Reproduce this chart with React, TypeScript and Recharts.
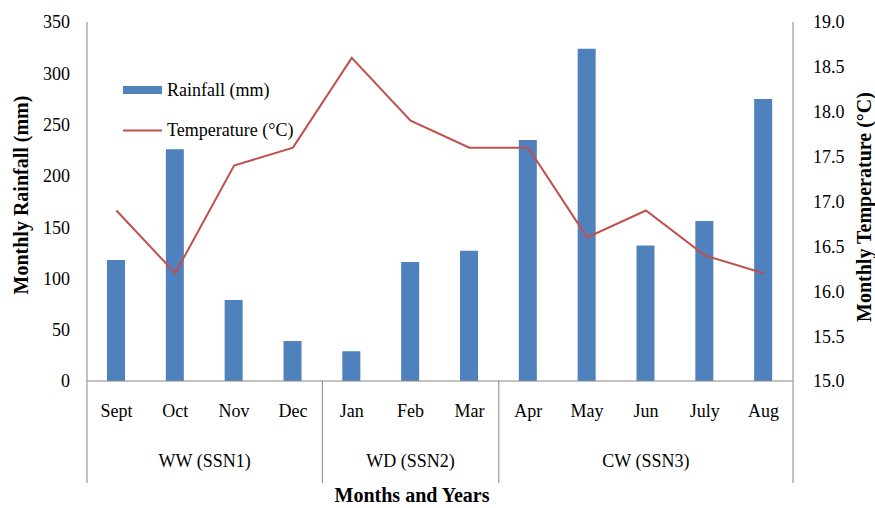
import React from 'react';
import { ComposedChart, Bar, Line, XAxis, YAxis, Legend, Label } from 'recharts';

const months = ['Sept', 'Oct', 'Nov', 'Dec', 'Jan', 'Feb', 'Mar', 'Apr', 'May', 'Jun', 'July', 'Aug'];
const rainfall = [118, 226, 79, 39, 29, 116, 127, 235, 324, 132, 156, 275];
const temperature = [16.9, 16.2, 17.4, 17.6, 18.6, 17.9, 17.6, 17.6, 16.6, 16.9, 16.4, 16.2];
const seasonLabels = ['WW (SSN1)', 'WD (SSN2)', 'CW (SSN3)'];
const seasonSizes = [4, 3, 5];
const rainTicks = [0, 50, 100, 150, 200, 250, 300, 350];
const tempTicks = [15, 15.5, 16, 16.5, 17, 17.5, 18, 18.5, 19];

const data = months.map((m, i) => ({ month: m, rainfall: rainfall[i], temperature: temperature[i] }));

const W = 875;
const H = 508;
const LEFT_W = 87;
const RIGHT_W = 82;
const TOP = 22;
const XAXIS_H = 127;
const PLOT_W = W - LEFT_W - RIGHT_W;
const PLOT_BOTTOM = H - XAXIS_H;
const STEP = PLOT_W / months.length;
const FRAME = '#868686';
const FONT = 'Liberation Serif';

const seasonStarts = seasonSizes.map((_, k) => seasonSizes.slice(0, k).reduce((a, b) => a + b, 0));

const MonthTick = (props: any) => {
  const { x, payload, index } = props;
  const i = typeof index === 'number' ? index : payload.index;
  const els: any[] = [];
  els.push(
    <text key="m" x={x} y={PLOT_BOTTOM + 36} textAnchor="middle" style={{ fontFamily: FONT }} fontSize={18} fill="#000">
      {payload.value}
    </text>
  );
  const k = seasonStarts.indexOf(i);
  if (k >= 0) {
    const left = x - STEP / 2;
    els.push(<line key="s" x1={left} x2={left} y1={PLOT_BOTTOM} y2={PLOT_BOTTOM + 102} stroke={FRAME} strokeWidth={1} />);
    els.push(
      <text key="g" x={left + (seasonSizes[k] * STEP) / 2} y={PLOT_BOTTOM + 86} textAnchor="middle" style={{ fontFamily: FONT }} fontSize={18} fill="#000">
        {seasonLabels[k]}
      </text>
    );
  }
  if (i === months.length - 1) {
    const right = x + STEP / 2;
    els.push(<line key="e" x1={right} x2={right} y1={PLOT_BOTTOM} y2={PLOT_BOTTOM + 102} stroke={FRAME} strokeWidth={1} />);
  }
  return <g>{els}</g>;
};

const renderLegend = () => (
  <div style={{ fontFamily: FONT, fontSize: 18, color: '#000', lineHeight: '20px' }}>
    <div style={{ display: 'flex', alignItems: 'center', height: 40 }}>
      <svg width={39} height={8} style={{ display: 'block' }}>
        <rect x={0} y={0} width={39} height={8} fill="#4F81BD" />
      </svg>
      <span style={{ marginLeft: 5 }}>Rainfall (mm)</span>
    </div>
    <div style={{ display: 'flex', alignItems: 'center', height: 40 }}>
      <svg width={39} height={3} style={{ display: 'block' }}>
        <line x1={0} x2={39} y1={1.5} y2={1.5} stroke="#C0504D" strokeWidth={2} />
      </svg>
      <span style={{ marginLeft: 5 }}>Temperature (°C)</span>
    </div>
  </div>
);

export default function App() {
  return (
    <div style={{ position: 'absolute', left: 0, top: 0, width: W, height: H, background: '#fff', fontFamily: FONT }}>
      <ComposedChart width={W} height={H} data={data} margin={{ top: TOP, right: 0, bottom: 0, left: 0 }} style={{ fontFamily: FONT }}>
        <XAxis
          dataKey="month"
          height={XAXIS_H}
          interval={0}
          tickLine={false}
          axisLine={{ stroke: FRAME, strokeWidth: 1 }}
          tick={<MonthTick />}
        >
          <Label
            content={(p: any) => {
              const vb = p.viewBox;
              return (
                <text x={412} y={vb.y + 121} textAnchor="middle" style={{ fontFamily: FONT }} fontSize={20} fontWeight="bold" fill="#000">
                  Months and Years
                </text>
              );
            }}
          />
        </XAxis>
        <XAxis
          xAxisId="top"
          dataKey="month"
          orientation="top"
          height={0}
          tick={false}
          tickLine={false}
          axisLine={{ stroke: FRAME, strokeWidth: 1 }}
        />
        <YAxis
          yAxisId="left"
          width={LEFT_W}
          domain={[0, 350]}
          ticks={rainTicks}
          tickLine={false}
          tickSize={0}
          tickMargin={17}
          axisLine={{ stroke: FRAME, strokeWidth: 1 }}
          tick={{ fontFamily: FONT, fontSize: 18, fill: '#000' }}
        >
          <Label
            content={() => {
              const cx = 21;
              const cy = 195;
              return (
                <text x={cx} y={cy} transform={`rotate(-90 ${cx} ${cy})`} textAnchor="middle" dominantBaseline="central" style={{ fontFamily: FONT }} fontSize={20} fontWeight="bold" fill="#000">
                  Monthly Rainfall (mm)
                </text>
              );
            }}
          />
        </YAxis>
        <YAxis
          yAxisId="right"
          orientation="right"
          width={RIGHT_W}
          domain={[15, 19]}
          ticks={tempTicks}
          tickFormatter={(v: number) => v.toFixed(1)}
          tickLine={false}
          tickSize={0}
          tickMargin={20}
          axisLine={{ stroke: FRAME, strokeWidth: 1 }}
          tick={{ fontFamily: FONT, fontSize: 18, fill: '#000' }}
        >
          <Label
            content={() => {
              const cx = 864;
              const cy = 207;
              return (
                <text x={cx} y={cy} transform={`rotate(-90 ${cx} ${cy})`} textAnchor="middle" dominantBaseline="central" style={{ fontFamily: FONT }} fontSize={20} fontWeight="bold" fill="#000">
                  Monthly Temperature (°C)
                </text>
              );
            }}
          />
        </YAxis>
        <Legend
          layout="vertical"
          align="center"
          verticalAlign="middle"
          content={renderLegend}
          wrapperStyle={{ position: 'absolute', left: 123, top: 70, width: 220, height: 80 }}
        />
        <Bar yAxisId="left" dataKey="rainfall" fill="#4F81BD" barSize={18} isAnimationActive={false} />
        <Line
          yAxisId="right"
          type="linear"
          dataKey="temperature"
          stroke="#C0504D"
          strokeWidth={2}
          dot={false}
          isAnimationActive={false}
        />
      </ComposedChart>
    </div>
  );
}
